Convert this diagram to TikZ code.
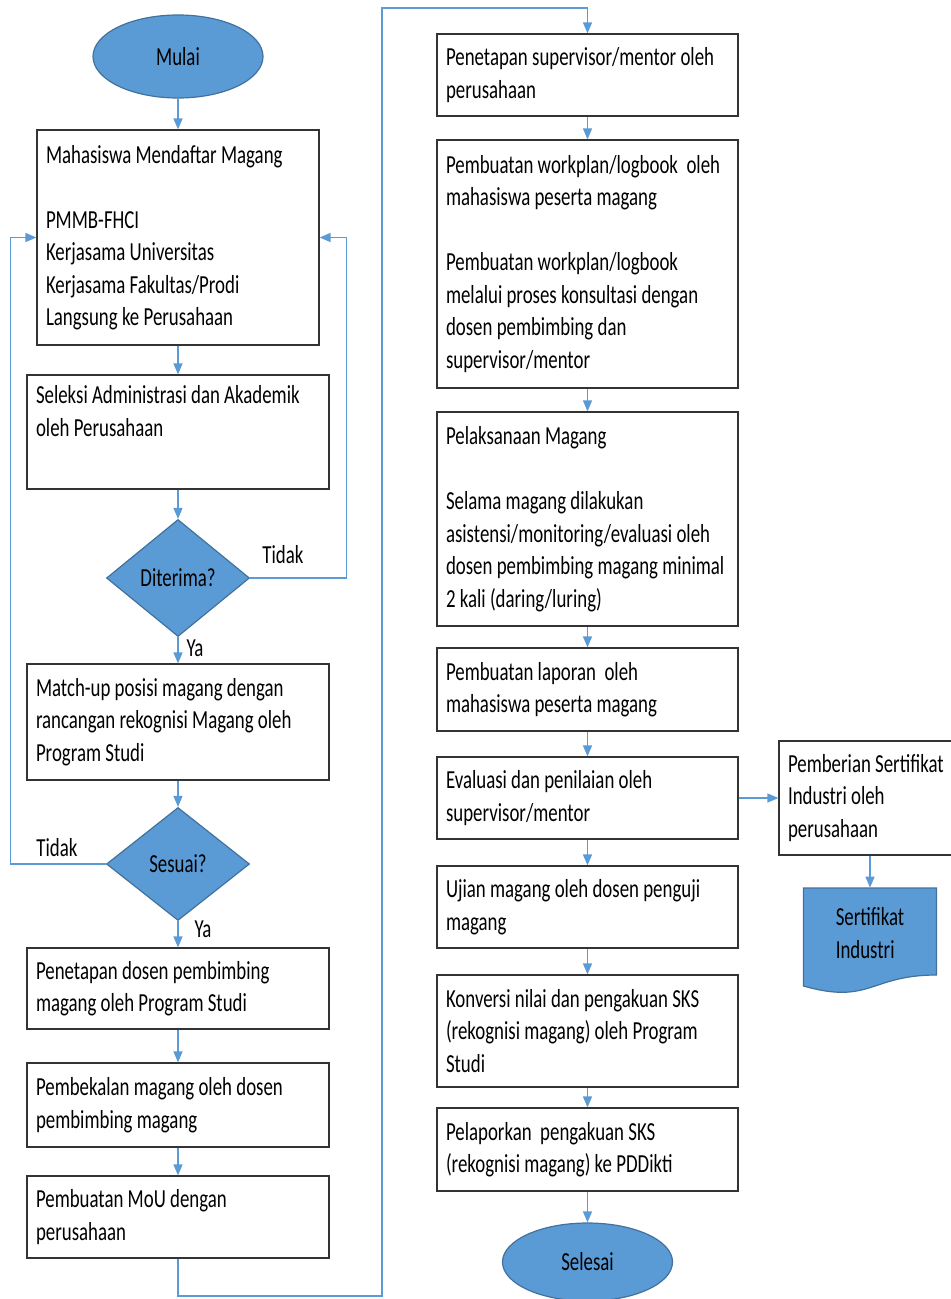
\documentclass[tikz,border=0pt]{standalone}
\usepackage{fontspec}
\setmainfont{Carlito}[FakeStretch=0.725]
\usetikzlibrary{shapes.geometric,arrows.meta}
\definecolor{officeblue}{HTML}{5B9BD5}
\definecolor{edgeblue}{HTML}{41719C}

\tikzset{
  flow/.style={draw=officeblue, line width=0.7pt, -{Triangle[length=5.5pt,width=4.5pt]}},
  procbox/.style={draw=black!80, line width=0.6pt, rectangle, inner xsep=4.5pt, inner ysep=0pt, align=flush left},
  lcol/.style={procbox, text width=142pt, minimum height=#1},
  rcol/.style={procbox, text width=141.5pt, minimum height=#1},
  termnode/.style={ellipse, fill=officeblue, draw=edgeblue, line width=0.6pt, minimum width=85pt, inner sep=0pt},
  decision/.style={diamond, fill=officeblue, draw=edgeblue, line width=0.6pt, minimum width=71.5pt, inner sep=0pt}
}

\begin{document}
\begin{tikzpicture}[x=0.5pt, y=-0.5pt, font=\fontsize{13}{16.25}\selectfont]
  \useasboundingbox (0,0) rectangle (951,1299);

  % left column
  \node[termnode, minimum height=41.5pt] (mulai) at (178,56.5) {Mulai};
  \node[procbox, text width=132pt, minimum height=107.5pt] (daftar) at (178,237.5)
    {Mahasiswa Mendaftar Magang\\[\baselineskip] PMMB-FHCI\\ Kerjasama Universitas\\ Kerjasama Fakultas/Prodi\\ Langsung ke Perusahaan};
  \node[lcol=57pt] (seleksi) at (178,432) {Seleksi Administrasi dan Akademik\\ oleh Perusahaan\\ \strut};
  \node[decision, minimum height=58.5pt] (diterima) at (178,578) {Diterima?};
  \node[lcol=58pt] (matchup) at (178,722) {Match-up posisi magang dengan\\ rancangan rekognisi Magang oleh\\ Program Studi};
  \node[decision, minimum height=56.5pt] (sesuai) at (178,864) {Sesuai?};
  \node[lcol=40.5pt] (penetapan) at (178,988.5) {Penetapan dosen pembimbing\\ magang oleh Program Studi};
  \node[lcol=42pt] (pembekalan) at (178,1105) {Pembekalan magang oleh dosen\\ pembimbing magang};
  \node[lcol=41pt] (mou) at (178,1217) {Pembuatan MoU dengan\\ perusahaan};

  \node (tidakA) at (283,555) {Tidak};
  \node (yaA) at (195,648) {Ya};
  \node (tidakB) at (57,848) {Tidak};
  \node (yaB) at (203,929) {Ya};

  % right column
  \node[rcol=41pt] (super) at (587.5,75) {Penetapan supervisor/mentor oleh\\ perusahaan};
  \node[rcol=124pt] (workplan) at (587.5,264)
    {Pembuatan workplan/logbook~ oleh\\ mahasiswa peserta magang\\[\baselineskip] Pembuatan workplan/logbook\\ melalui proses konsultasi dengan\\ dosen pembimbing dan\\ supervisor/mentor};
  \node[rcol=107pt] (laksana) at (587.5,519)
    {Pelaksanaan Magang\\[\baselineskip] Selama magang dilakukan\\ asistensi/monitoring/evaluasi oleh\\ dosen pembimbing magang minimal\\ 2 kali (daring/luring)};
  \node[rcol=41.5pt] (laporan) at (587.5,689.5) {Pembuatan laporan~ oleh\\ mahasiswa peserta magang};
  \node[rcol=41pt] (evaluasi) at (587.5,798) {Evaluasi dan penilaian oleh\\ supervisor/mentor};
  \node[rcol=41pt] (ujian) at (587.5,907) {Ujian magang oleh dosen penguji\\ magang};
  \node[rcol=56pt] (konversi) at (587.5,1031) {Konversi nilai dan pengakuan SKS\\ (rekognisi magang) oleh Program\\ Studi};
  \node[rcol=41.5pt] (pelaporan) at (587.5,1149.5) {Pelaporkan~ pengakuan SKS\\ (rekognisi magang) ke PDDikti};
  \node[termnode, minimum height=39pt] (selesai) at (587.5,1262) {Selesai};

  % certificate
  \node[procbox, text width=82pt, minimum height=57pt] (pemberian) at (870,798) {Pemberian Sertifikat\\ Industri oleh\\ perusahaan};
  \filldraw[fill=officeblue, draw=edgeblue, line width=0.6pt] (803.5,888) -- (936.5,888) -- (936.5,975)
    .. controls (870,975) and (870,1005) .. (803.5,986) -- cycle;
  \node[minimum width=66.5pt, minimum height=45pt, inner sep=0pt, align=left] (sertifikat) at (870,933) {Sertifikat\\ Industri};

  % connectors
  \foreach \a/\b in {mulai/daftar, daftar/seleksi, seleksi/diterima, diterima/matchup, matchup/sesuai,
      sesuai/penetapan, penetapan/pembekalan, pembekalan/mou} { \draw[flow] (\a) -- (\b); }
  \foreach \a/\b in {super/workplan, workplan/laksana, laksana/laporan, laporan/evaluasi, evaluasi/ujian,
      ujian/konversi, konversi/pelaporan, pelaporan/selesai, evaluasi/pemberian, pemberian/sertifikat} { \draw[flow] (\a) -- (\b); }
  \draw[flow] (diterima.east) -| ([xshift=13.5pt]daftar.east) -- (daftar.east);
  \draw[flow] (sesuai.west) -| ([xshift=-13pt]daftar.west) -- (daftar.west);
  \coordinate (bendA) at (382,1296);
  \coordinate (bendB) at (382,8);
  \draw[flow] (mou.south) |- (bendA) -- (bendB) -| (super.north);
\end{tikzpicture}
\end{document}
